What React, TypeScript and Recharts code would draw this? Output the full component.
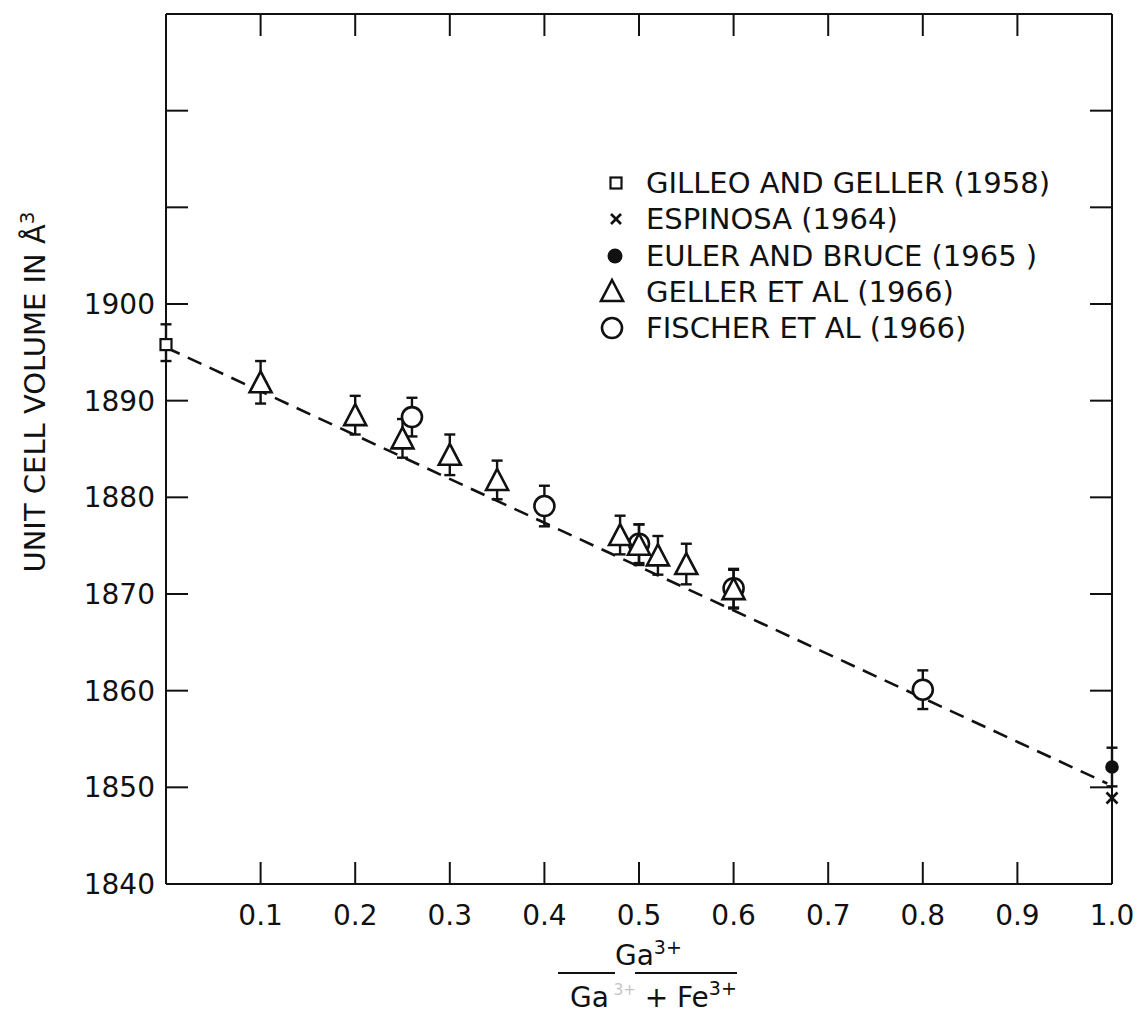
import React from 'react';
import { ComposedChart, XAxis, YAxis, Scatter, Line, ErrorBar, Legend } from 'recharts';

// ---- data ----
const xTicks = [0.1, 0.2, 0.3, 0.4, 0.5, 0.6, 0.7, 0.8, 0.9, 1.0];
const xTopTicks = [0.1, 0.2, 0.3, 0.4, 0.5, 0.6, 0.7, 0.8, 0.9];
const yTicks = [1840, 1850, 1860, 1870, 1880, 1890, 1900, 1910, 1920];
const yRightTicks = [1850, 1860, 1870, 1880, 1890, 1900, 1910, 1920];
const yLabelMax = 1900;

const gilleoX = [0];
const gilleoY = [1895.8];
const gilleoErr = [[1.7, 2.1]];

const espinosaX = [1.0];
const espinosaY = [1848.9];

const eulerX = [1.0];
const eulerY = [1852.1];
const eulerErr = [2.0];

const gellerX = [0.1, 0.2, 0.25, 0.3, 0.35, 0.48, 0.5, 0.52, 0.55, 0.6];
const gellerY = [1891.9, 1888.5, 1886.1, 1884.4, 1881.8, 1876.1, 1875.1, 1874.0, 1873.1, 1870.5];
const gellerErr = [2.2, 2.0, 2.0, 2.1, 2.0, 2.0, 2.1, 2.0, 2.1, 2.0];

const fischerX = [0.26, 0.4, 0.5, 0.6, 0.8];
const fischerY = [1888.3, 1879.1, 1875.2, 1870.6, 1860.1];
const fischerErr = [2.0, 2.1, 2.0, 2.0, 2.0];

const fitX = [0, 0.995];
const fitY = [1895.5, 1850.4];

const legendLabels = [
  'GILLEO AND GELLER (1958)',
  'ESPINOSA (1964)',
  'EULER AND BRUCE (1965 )',
  'GELLER ET AL (1966)',
  'FISCHER ET AL (1966)',
];

const zip = (xs: number[], ys: number[], es?: any[]) =>
  xs.map((x, i) => ({ x, y: ys[i], err: es ? es[i] : 0 }));

const gilleoData = zip(gilleoX, gilleoY, gilleoErr);
const espinosaData = zip(espinosaX, espinosaY);
const eulerData = zip(eulerX, eulerY, eulerErr);
const gellerData = zip(gellerX, gellerY, gellerErr);
const fischerData = zip(fischerX, fischerY, fischerErr);
const fitData = zip(fitX, fitY);

const INK = '#111';
const FONT = '"DejaVu Sans", Verdana, sans-serif';

const Square = (p: any) => (
  <rect x={p.cx - 5.5} y={p.cy - 5.5} width={11} height={11} fill="#fff" stroke={INK} strokeWidth={2.2} />
);
const Cross = (p: any) => (
  <g stroke={INK} strokeWidth={2.6}>
    <line x1={p.cx - 5.5} y1={p.cy - 5.5} x2={p.cx + 5.5} y2={p.cy + 5.5} />
    <line x1={p.cx - 5.5} y1={p.cy + 5.5} x2={p.cx + 5.5} y2={p.cy - 5.5} />
  </g>
);
const Dot = (p: any) => <circle cx={p.cx} cy={p.cy} r={6.8} fill={INK} />;
const Tri = (p: any) => (
  <polygon
    points={`${p.cx},${p.cy - 11} ${p.cx - 11},${p.cy + 10} ${p.cx + 11},${p.cy + 10}`}
    fill="#fff"
    stroke={INK}
    strokeWidth={2.6}
    strokeLinejoin="miter"
  />
);
const Ring = (p: any) => <circle cx={p.cx} cy={p.cy} r={10} fill="#fff" stroke={INK} strokeWidth={2.6} />;

const legendIcons = [
  <rect key="a" x={12.5} y={12.5} width={11} height={11} fill="#fff" stroke={INK} strokeWidth={2.2} />,
  <g key="b" stroke={INK} strokeWidth={2.6}>
    <line x1={13} y1={13} x2={23} y2={23} />
    <line x1={13} y1={23} x2={23} y2={13} />
  </g>,
  <circle key="c" cx={17} cy={18} r={7.5} fill={INK} />,
  <polygon key="d" points="14,6 3,27 25,27" fill="none" stroke={INK} strokeWidth={2.6} />,
  <circle key="e" cx={14} cy={18} r={10} fill="none" stroke={INK} strokeWidth={2.6} />,
];

const renderLegend = () => (
  <div style={{ fontFamily: FONT, fontSize: 29, color: INK, whiteSpace: 'nowrap' }}>
    {legendLabels.map((t, i) => (
      <div key={t} style={{ height: 36.25, lineHeight: '36px', display: 'flex', alignItems: 'center' }}>
        <svg width={36} height={36} style={{ flex: 'none' }}>{legendIcons[i]}</svg>
        <span style={{ marginLeft: 12 }}>{t}</span>
      </div>
    ))}
  </div>
);

const YLabel = () => (
  <text
    x={45}
    y={392}
    transform="rotate(-90 45 392)"
    textAnchor="middle"
    fontFamily={FONT}
    fontSize={29}
    fill={INK}
  >
    UNIT CELL VOLUME IN Å
    <tspan dy={-11} fontSize={20}>3</tspan>
  </text>
);

const XLabel = () => (
  <g fontFamily={FONT} fill={INK}>
    <text x={615} y={965} fontSize={28}>
      Ga<tspan dy={-11} fontSize={19}>3+</tspan>
    </text>
    <line x1={558} x2={615} y1={973} y2={973} stroke={INK} strokeWidth={2} />
    <line x1={635} x2={737} y1={973} y2={973} stroke={INK} strokeWidth={2} />
    <text x={570} y={1007} fontSize={28}>
      Ga
      <tspan dy={-12} fontSize={15} fill="#c4c4c4">
        {' 3+'}
      </tspan>
      <tspan dy={12} fontSize={28}>
        {' + Fe'}
      </tspan>
      <tspan dy={-12} fontSize={19}>
        3+
      </tspan>
    </text>
  </g>
);

const axisLine = { stroke: INK, strokeWidth: 2 };
const tickLine = { stroke: INK, strokeWidth: 2 };
const tickFont = { fontFamily: FONT, fontSize: 28, fill: INK };
const noLabel = () => '';
const errProps = { stroke: INK, strokeWidth: 2.4 };

export default function App() {
  return (
    <div style={{ position: 'absolute', left: 0, top: 0, width: 1140, height: 1016, background: '#fff' }}>
      <ComposedChart
        width={1140}
        height={1016}
        margin={{ top: 13, right: 27, bottom: 0, left: 0 }}
      >
        <XAxis
          xAxisId="bottom"
          dataKey="x"
          type="number"
          orientation="bottom"
          domain={[0, 1]}
          ticks={xTicks}
          tickFormatter={(v: number) => v.toFixed(1)}
          height={132}
          axisLine={axisLine}
          tickLine={tickLine}
          tickSize={-22}
          tickMargin={43}
          tick={tickFont}
          interval={0}
          label={{ content: () => <XLabel /> }}
        />
        <XAxis
          xAxisId="top"
          dataKey="x"
          type="number"
          orientation="top"
          domain={[0, 1]}
          ticks={xTopTicks}
          height={1}
          axisLine={axisLine}
          tickLine={tickLine}
          tickSize={-22}
          tickFormatter={noLabel}
          tick={tickFont}
          interval={0}
        />
        <YAxis
          yAxisId="left"
          type="number"
          orientation="left"
          domain={[1840, 1930]}
          ticks={yTicks}
          tickFormatter={(v: number) => (v <= yLabelMax ? String(v) : '')}
          width={166}
          axisLine={axisLine}
          tickLine={tickLine}
          tickSize={-22}
          tickMargin={33}
          tick={tickFont}
          interval={0}
          label={{ content: () => <YLabel /> }}
        />
        <YAxis
          yAxisId="right"
          type="number"
          orientation="right"
          domain={[1840, 1930]}
          ticks={yRightTicks}
          width={1}
          axisLine={axisLine}
          tickLine={tickLine}
          tickSize={-22}
          tickFormatter={noLabel}
          tick={tickFont}
          interval={0}
        />
        {/* fit line drawn against the top/right axes (identical domains to bottom/left) */}
        <Line
          xAxisId="top"
          yAxisId="right"
          data={fitData}
          dataKey="y"
          type="linear"
          stroke={INK}
          strokeWidth={2.6}
          strokeDasharray="15 9"
          dot={false}
          activeDot={false}
          isAnimationActive={false}
          legendType="none"
        />
        <Scatter xAxisId="bottom" yAxisId="left" data={fischerData} dataKey="y" shape={Ring} isAnimationActive={false}>
          <ErrorBar dataKey="err" direction="y" width={5.5} {...errProps} />
        </Scatter>
        <Scatter xAxisId="bottom" yAxisId="left" data={gellerData} dataKey="y" shape={Tri} isAnimationActive={false}>
          <ErrorBar dataKey="err" direction="y" width={5.5} {...errProps} />
        </Scatter>
        <Scatter xAxisId="bottom" yAxisId="left" data={gilleoData} dataKey="y" shape={Square} isAnimationActive={false}>
          <ErrorBar dataKey="err" direction="y" width={5.5} {...errProps} />
        </Scatter>
        <Scatter xAxisId="bottom" yAxisId="left" data={eulerData} dataKey="y" shape={Dot} isAnimationActive={false}>
          <ErrorBar dataKey="err" direction="y" width={5.5} {...errProps} />
        </Scatter>
        <Scatter xAxisId="bottom" yAxisId="left" data={espinosaData} dataKey="y" shape={Cross} isAnimationActive={false} />
        <Legend
          layout="horizontal"
          verticalAlign="middle"
          align="center"
          content={renderLegend}
          wrapperStyle={{ left: 598, top: 165, width: 520, height: 182 }}
        />
      </ComposedChart>
    </div>
  );
}
